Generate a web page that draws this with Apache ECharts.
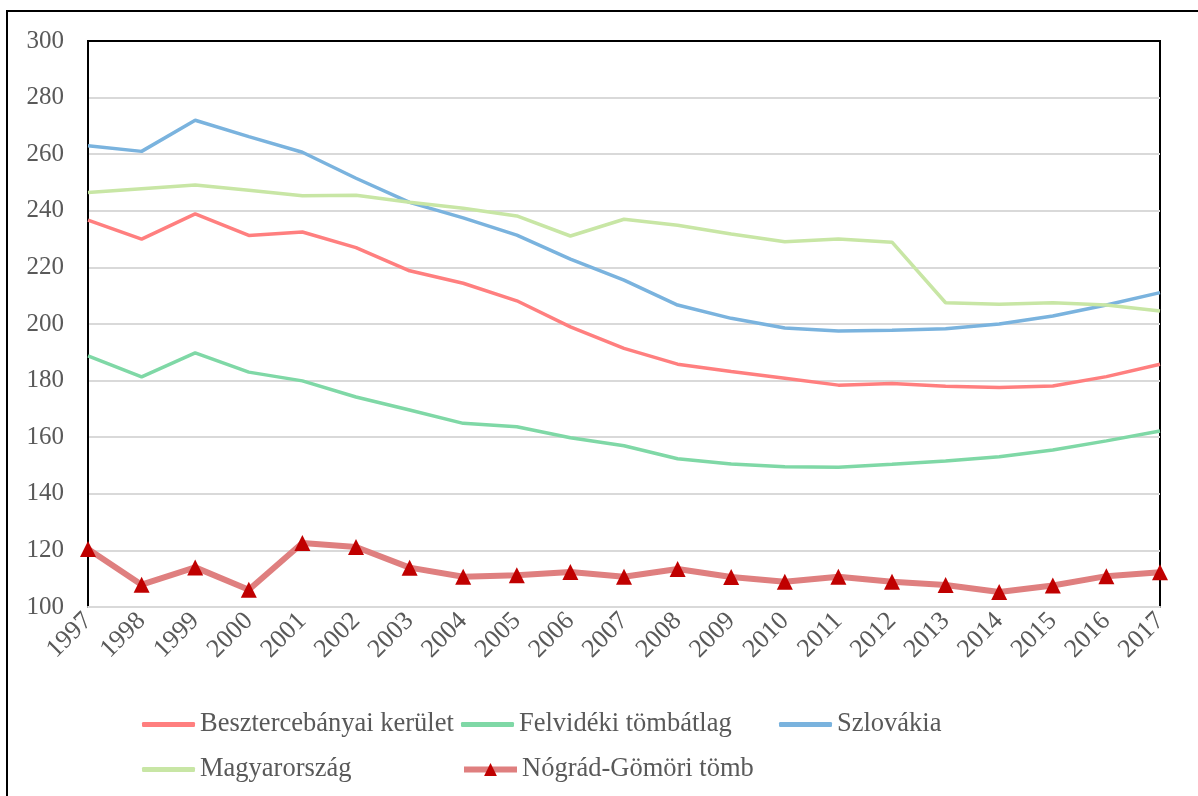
<!DOCTYPE html>
<html>
<head>
<meta charset="utf-8">
<script src="https://cdn.jsdelivr.net/npm/echarts@6/dist/echarts.min.js"></script>
<style>
  html, body { margin: 0; padding: 0; background: #fff; }
  #chart { width: 1198px; height: 796px; }
</style>
</head>
<body>
<div id="chart"></div>
<script>
const years = ['1997', '1998', '1999', '2000', '2001', '2002', '2003', '2004', '2005', '2006', '2007',
  '2008', '2009', '2010', '2011', '2012', '2013', '2014', '2015', '2016', '2017']

const besztercebanya = [236.7, 230.0, 238.9, 231.3, 232.5, 227.0, 218.8, 214.4, 208.2, 199.0, 191.4,
  185.8, 183.2, 180.8, 178.4, 179.0, 178.0, 177.6, 178.1, 181.4, 185.8]
const felvidek = [188.7, 181.3, 189.8, 183.0, 179.9, 174.2, 169.6, 164.9, 163.7, 159.8, 157.0,
  152.4, 150.5, 149.6, 149.4, 150.4, 151.6, 153.1, 155.5, 158.7, 162.2]
const szlovakia = [263.0, 261.0, 272.0, 266.2, 260.7, 251.5, 243.0, 237.5, 231.4, 222.9, 215.5,
  206.7, 202.0, 198.6, 197.5, 197.8, 198.3, 200.0, 202.8, 206.7, 211.1]
const magyarorszag = [246.5, 247.8, 249.1, 247.3, 245.3, 245.5, 243.0, 240.9, 238.2, 231.1, 237.0,
  234.9, 231.8, 229.1, 230.0, 228.9, 207.5, 207.0, 207.5, 206.7, 204.6]
const nogradGomor = [120.5, 107.9, 114.0, 106.1, 122.6, 121.2, 113.9, 110.7, 111.2, 112.4, 110.7,
  113.4, 110.6, 108.9, 110.7, 108.9, 107.8, 105.3, 107.6, 110.9, 112.3]

const names = ['Besztercebányai kerület', 'Felvidéki tömbátlag', 'Szlovákia', 'Magyarország', 'Nógrád-Gömöri tömb']

const chart = echarts.init(document.getElementById('chart'))

const font = '"Liberation Serif", "Times New Roman", serif'
const legendText = { color: '#595959', fontSize: 26.5, fontFamily: font }

function lineSeries(name, data, color) {
  return {
    name,
    type: 'line',
    data,
    symbol: 'none',
    lineStyle: { color, width: 3.5 },
    itemStyle: { color },
  }
}

// plain series get a flat bar as legend key, the marker series keeps line + triangle
function legendAt(name, left, top, plain) {
  const leg = {
    data: [name],
    left,
    top,
    itemWidth: 53,
    itemHeight: plain ? 5 : 16,
    itemGap: 4,
    textStyle: legendText,
    selectedMode: false,
  }
  if (plain) leg.icon = 'roundRect'
  else leg.lineStyle = { width: 6 }
  return leg
}

chart.setOption({
  animation: false,
  backgroundColor: '#fff',
  graphic: [
    {
      type: 'rect',
      shape: { x: 7, y: 11, width: 1300, height: 900 },
      style: { fill: 'none', stroke: '#000', lineWidth: 2 },
      silent: true,
      z: -1,
    },
  ],
  legend: [
    legendAt(names[0], 137, 706, true),
    legendAt(names[1], 456, 706, true),
    legendAt(names[2], 774, 706, true),
    legendAt(names[3], 137, 751, true),
    legendAt(names[4], 456, 751, false),
  ],
  grid: {
    left: 88, right: 38, top: 41, bottom: 189,
    show: true, borderColor: '#000', borderWidth: 2,
  },
  xAxis: {
    type: 'category',
    data: years,
    boundaryGap: false,
    axisLine: { lineStyle: { color: '#d9d9d9', width: 2 } },
    axisTick: { show: false },
    axisLabel: {
      color: '#595959', fontSize: 26, fontFamily: font,
      rotate: 45, margin: 10, interval: 0,
    },
  },
  yAxis: {
    type: 'value',
    min: 100,
    max: 300,
    interval: 20,
    axisLine: { show: true, lineStyle: { color: '#000', width: 2 } },
    axisTick: { show: false },
    splitLine: { lineStyle: { color: '#d9d9d9', width: 2 }, showMaxLine: false },
    axisLabel: { color: '#595959', fontSize: 25, fontFamily: font, margin: 24 },
  },
  series: [
    lineSeries(names[0], besztercebanya, '#ff7f7f'),
    lineSeries(names[1], felvidek, '#7fd8a6'),
    lineSeries(names[2], szlovakia, '#7ab3de'),
    lineSeries(names[3], magyarorszag, '#c8e6a5'),
    {
      name: names[4],
      type: 'line',
      data: nogradGomor,
      symbol: 'triangle',
      symbolSize: 16,
      lineStyle: { color: '#df7f7f', width: 6 },
      itemStyle: { color: '#c00000' },
      z: 5,
    },
  ],
})
</script>
</body>
</html>
